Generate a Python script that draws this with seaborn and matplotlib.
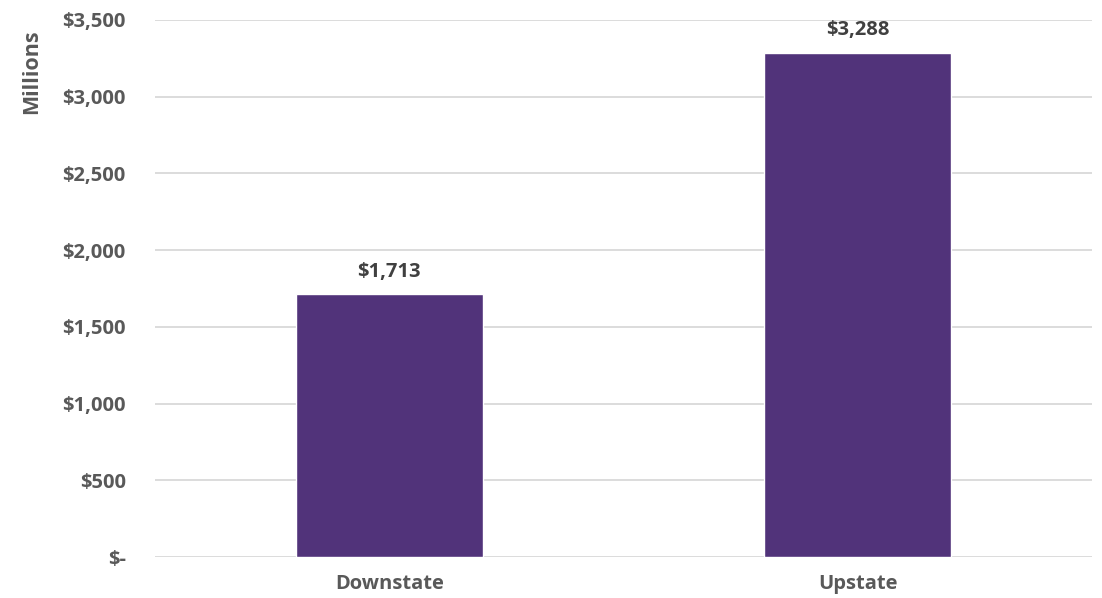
import matplotlib
matplotlib.use("Agg")
import matplotlib.pyplot as plt
import seaborn as sns
import pandas as pd

categories = ["Downstate", "Upstate"]
values = [1713, 3288]
ytick_values = [0, 500, 1000, 1500, 2000, 2500, 3000, 3500]
ytick_labels = ["$-", "$500", "$1,000", "$1,500", "$2,000", "$2,500", "$3,000", "$3,500"]
value_labels = ["$1,713", "$3,288"]

sns.set_theme(style="white")
plt.rcParams["font.family"] = ["Open Sans", "DejaVu Sans"]

df = pd.DataFrame({"region": categories, "value": values})

fig = plt.figure(figsize=(11.02, 5.98), dpi=100)
ax = fig.add_axes([155/1102, 41/598, (1092-155)/1102, (557-20)/598])

sns.barplot(data=df, x="region", y="value", color="#51337A", width=0.4,
            saturation=1, ax=ax, zorder=3)

ax.set_ylim(0, 3500)
ax.set_xlim(-0.5, 1.5)
ax.set_yticks(ytick_values)
ax.set_yticklabels(ytick_labels)
ax.yaxis.grid(True, color="#D9D9D9", linewidth=1.3, zorder=0)
ax.set_axisbelow(True)
for s in ax.spines.values():
    s.set_visible(False)
ax.tick_params(axis="both", length=0, labelsize=14.5, labelcolor="#595959")
ax.tick_params(axis="y", pad=21)
ax.tick_params(axis="x", pad=12)
for lbl in ax.get_xticklabels() + ax.get_yticklabels():
    lbl.set_fontweight("bold")

ax.set_xlabel("")
ax.set_ylabel("Millions", fontsize=15.5, fontweight="bold", color="#595959")
ax.yaxis.set_label_coords(-0.12, 0.903)

for i, (v, t) in enumerate(zip(values, value_labels)):
    ax.annotate(t, (i, v), xytext=(0, 9), textcoords="offset points",
                ha="center", va="bottom", fontsize=14.5, fontweight="bold",
                color="#404040")

fig.savefig("out.png", dpi=100)
